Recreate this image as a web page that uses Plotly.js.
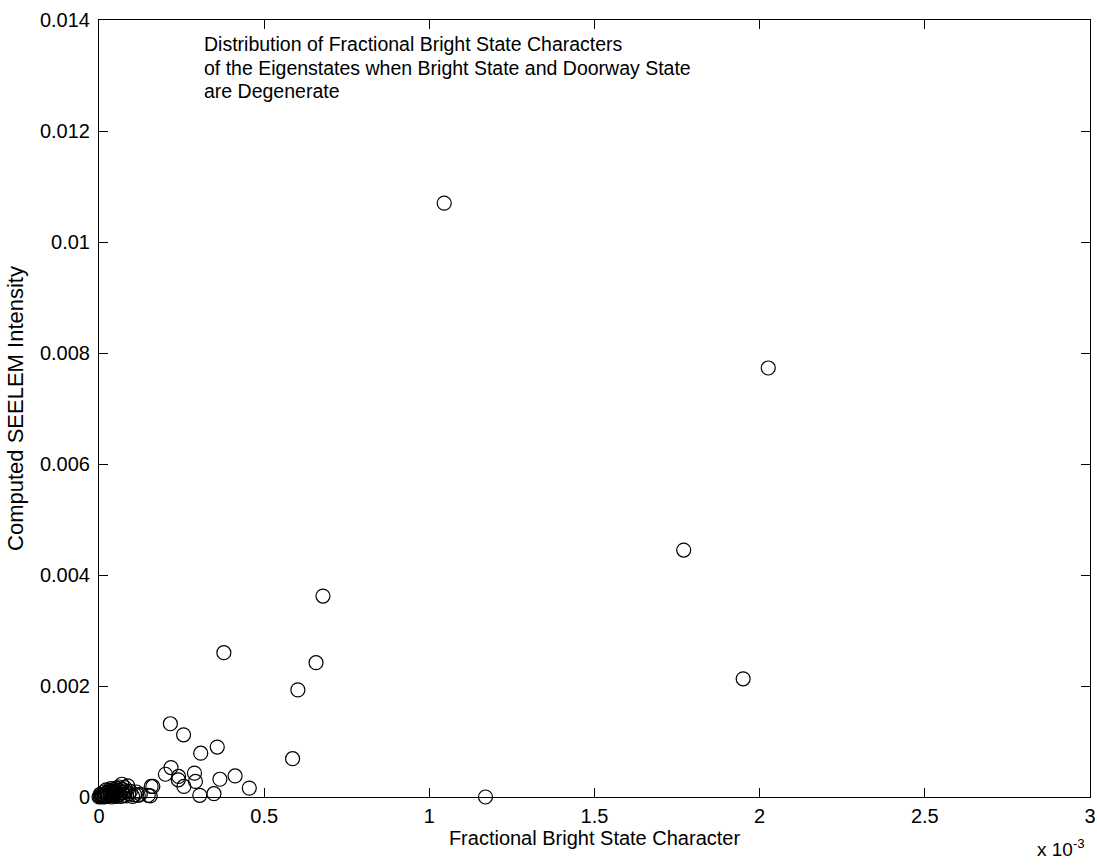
<!DOCTYPE html>
<html>
<head>
<meta charset="utf-8">
<script src="https://cdn.plot.ly/plotly-3.0.1.min.js"></script>
<style>html,body{margin:0;padding:0;background:#fff;}#chart{width:1097px;height:865px;}</style>
</head>
<body>
<div id="chart"></div>
<script>
// Fractional bright state character (units of 1e-3) and computed SEELEM intensity (units of 1e-3)
const brightCharE3 = [
  1.045, 2.026, 1.770, 1.950, 1.170,
  0.678, 0.657, 0.602, 0.378, 0.586,
  0.216, 0.256, 0.358, 0.308, 0.218, 0.201, 0.241, 0.240, 0.289, 0.292,
  0.257, 0.366, 0.412, 0.455, 0.305, 0.348, 0.163, 0.155, 0.158,
  0.069, 0.087, 0.119, 0.149, 0.102, 0.125, 0.033,
  0.000, 0.003, 0.006, 0.008, 0.010, 0.012, 0.015, 0.017, 0.019, 0.021,
  0.024, 0.026, 0.028, 0.031, 0.033, 0.035, 0.038, 0.040, 0.042, 0.045,
  0.047, 0.050, 0.052, 0.055, 0.058, 0.060, 0.063, 0.066, 0.072, 0.075,
  0.079, 0.083, 0.090, 0.004, 0.014, 0.022, 0.036, 0.044, 0.053, 0.061,
  0.070, 0.078, 0.095, 0.108, 0.113
];
const seelemE3 = [
  10.70, 7.73, 4.45, 2.13, 0.00,
  3.62, 2.42, 1.93, 2.60, 0.69,
  1.32, 1.12, 0.90, 0.79, 0.53, 0.41, 0.37, 0.31, 0.43, 0.28,
  0.19, 0.32, 0.38, 0.16, 0.03, 0.06, 0.19, 0.02, 0.19,
  0.23, 0.20, 0.03, 0.03, 0.01, 0.05, 0.10,
  0.00, 0.01, 0.02, 0.00, 0.04, 0.01, 0.03, 0.00, 0.06, 0.02,
  0.08, 0.01, 0.04, 0.12, 0.03, 0.07, 0.00, 0.10, 0.05, 0.02,
  0.14, 0.06, 0.01, 0.09, 0.03, 0.12, 0.05, 0.01, 0.08, 0.03,
  0.11, 0.02, 0.06, 0.05, 0.09, 0.13, 0.15, 0.08, 0.16, 0.18,
  0.14, 0.17, 0.10, 0.04, 0.09
];
const xTickVals = [0, 0.0005, 0.001, 0.0015, 0.002, 0.0025, 0.003];
const xTickText = ["0", "0.5", "1", "1.5", "2", "2.5", "3"];
const yTickVals = [0, 0.002, 0.004, 0.006, 0.008, 0.01, 0.012, 0.014];
const yTickText = ["0", "0.002", "0.004", "0.006", "0.008", "0.01", "0.012", "0.014"];
const noteLines = [
  "Distribution of Fractional Bright State Characters",
  "of the Eigenstates when Bright State and Doorway State",
  "are Degenerate"
];

const xs = brightCharE3.map(v => v * 1e-3);
const ys = seelemE3.map(v => v * 1e-3);

const font = {family: "Liberation Sans, Arial, sans-serif", color: "#000"};
const noteY = [0.969, 0.938, 0.909];

const trace = {
  type: "scatter", mode: "markers", x: xs, y: ys,
  marker: {symbol: "circle-open", size: 14, color: "#000", line: {width: 1.2, color: "#000"}},
  cliponaxis: false, hoverinfo: "x+y", showlegend: false
};

const axisCommon = {
  showgrid: false, zeroline: false, showline: true, linecolor: "#000", linewidth: 1,
  mirror: "ticks", ticks: "inside", ticklen: 9, tickwidth: 1, tickcolor: "#000",
  tickfont: Object.assign({size: 20}, font)
};

const layout = {
  width: 1097, height: 865,
  margin: {l: 99, r: 7, t: 20, b: 68},
  paper_bgcolor: "#fff", plot_bgcolor: "#fff",
  font: font,
  xaxis: Object.assign({}, axisCommon, {
    range: [0, 0.003], tickmode: "array", tickvals: xTickVals, ticktext: xTickText,
    ticklabelstandoff: 1,
    title: {text: "Fractional Bright State Character", font: Object.assign({size: 20}, font), standoff: 3}
  }),
  yaxis: Object.assign({}, axisCommon, {
    range: [0, 0.014], tickmode: "array", tickvals: yTickVals, ticktext: yTickText,
    ticklabelstandoff: 4,
    title: {text: "Computed SEELEM Intensity", font: Object.assign({size: 22}, font), standoff: 10}
  }),
  annotations: noteLines.map((t, i) => ({
    text: t, xref: "paper", yref: "paper", x: 0.104, y: noteY[i],
    xanchor: "left", yanchor: "middle", showarrow: false,
    font: Object.assign({size: 19.5}, font)
  })).concat([{
    text: "x 10<sup>-3</sup>", xref: "paper", yref: "paper", x: 0.997, y: -0.066,
    xanchor: "right", yanchor: "middle", showarrow: false,
    font: Object.assign({size: 19}, font)
  }])
};

Plotly.newPlot("chart", [trace], layout, {displayModeBar: false, staticPlot: true});
</script>
</body>
</html>
